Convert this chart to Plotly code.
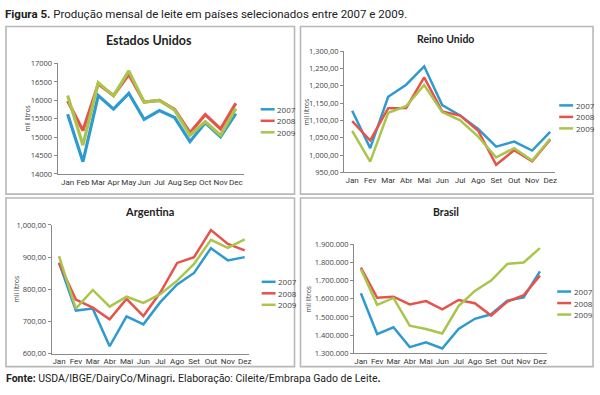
import plotly.graph_objects as go

# ---------------- data ----------------
series_names = ["2007", "2008", "2009"]
series_colors = ["#2E9AD0", "#E6534B", "#A9C54C"]

months_en = ["Jan", "Feb", "Mar", "Apr", "May", "Jun", "Jul", "Aug", "Sep", "Oct", "Nov", "Dec"]
months_pt = ["Jan", "Fev", "Mar", "Abr", "Mai", "Jun", "Jul", "Ago", "Set", "Out", "Nov", "Dez"]

usa_2007 = [15620, 14330, 16130, 15760, 16190, 15480, 15720, 15530, 14880, 15390, 15010, 15640]
usa_2008 = [15980, 15180, 16440, 16130, 16700, 15950, 16000, 15750, 15120, 15610, 15220, 15920]
usa_2009 = [16130, 14780, 16480, 16120, 16800, 15950, 16000, 15730, 15050, 15420, 15050, 15780]

uk_2007 = [1128, 1020, 1168, 1203, 1256, 1144, 1114, 1075, 1024, 1039, 1013, 1067]
uk_2008 = [1098, 1042, 1135, 1136, 1224, 1126, 1114, 1070, 972, 1014, 982, 1044]
uk_2009 = [1070, 981, 1122, 1141, 1202, 1124, 1100, 1053, 993, 1020, 984, 1047]

arg_2007 = [883, 734, 740, 623, 716, 691, 760, 815, 851, 928, 890, 900]
arg_2008 = [881, 768, 743, 707, 770, 717, 790, 882, 900, 984, 941, 921]
arg_2009 = [903, 740, 798, 746, 777, 758, 785, 827, 879, 954, 929, 955]

bra_2007 = [1631000, 1406000, 1443000, 1334000, 1360000, 1326000, 1434000, 1490000, 1515000, 1590000, 1608000, 1752000]
bra_2008 = [1772000, 1606000, 1612000, 1569000, 1588000, 1542000, 1594000, 1576000, 1508000, 1585000, 1620000, 1728000]
bra_2009 = [1764000, 1567000, 1605000, 1452000, 1434000, 1409000, 1560000, 1644000, 1701000, 1793000, 1801000, 1880000]

usa_ticks = [14000, 14500, 15000, 15500, 16000, 16500, 17000]
usa_ticktext = ["14000", "14500", "15000", "15500", "16000", "16500", "17000"]
uk_ticks = [950, 1000, 1050, 1100, 1150, 1200, 1250, 1300]
uk_ticktext = ["950,00", "1,000,00", "1,050,00", "1,100,00", "1,150,00", "1,200,00", "1,250,00", "1,300,00"]
arg_ticks = [600, 700, 800, 900, 1000]
arg_ticktext = ["600,00", "700,00", "800,00", "900,00", "1,000,00"]
bra_ticks = [1300000, 1400000, 1500000, 1600000, 1700000, 1800000, 1900000]
bra_ticktext = ["1.300.000", "1.400.000", "1.500.000", "1.600.000", "1.700.000", "1.800.000", "1.900.000"]

titles = ["Estados Unidos", "Reino Unido", "Argentina", "Brasil"]
y_title = "mil litros"
caption_bold = "Figura 5."
caption = " Produção mensal de leite em países selecionados entre 2007 e 2009."
footer = "<b>Fonte:</b> USDA/IBGE/DairyCo/Minagri<b>.</b> Elaboração: Cileite/Embrapa Gado de Leite<b>.</b>"

# ---------------- layout helpers ----------------
W, H = 600, 395


def fx(px):
    return px / W


def fy(py):
    return 1 - py / H


panels = [
    dict(months=months_en, data=[usa_2007, usa_2008, usa_2009], ticks=usa_ticks, ticktext=usa_ticktext,
         yr=[14000, 17000], xd=(58, 245), yd=(60, 173.3), xr=[-0.65, 11.52], lw=3.2,
         title_xy=(150, 36), title_size=12.5, leg=(262, 107), ytitle_x=28,
         box=(6, 22, 296, 194)),
    dict(months=months_pt, data=[uk_2007, uk_2008, uk_2009], ticks=uk_ticks, ticktext=uk_ticktext,
         yr=[950, 1300], xd=(346, 558), yd=(47.3, 171.7), xr=[-0.44, 11.28], lw=2.5,
         title_xy=(448, 35), title_size=10.5, leg=(562, 103), ytitle_x=308,
         box=(302, 22, 596, 194)),
    dict(months=months_pt, data=[arg_2007, arg_2008, arg_2009], ticks=arg_ticks, ticktext=arg_ticktext,
         yr=[600, 1000], xd=(52, 250), yd=(225.7, 357.7), xr=[-0.43, 11.24], lw=2.5,
         title_xy=(150, 212), title_size=11, leg=(263, 284), ytitle_x=16,
         box=(6, 198, 296, 371)),
    dict(months=months_pt, data=[bra_2007, bra_2008, bra_2009], ticks=bra_ticks, ticktext=bra_ticktext,
         yr=[1300000, 1900000], xd=(356, 550), yd=(245.7, 357.3), xr=[-0.41, 11.45], lw=2.5,
         title_xy=(448, 212), title_size=10.5, leg=(560, 294), ytitle_x=310,
         box=(302, 198, 596, 371)),
]

fig = go.Figure()
shapes = []
annotations = []
layout_axes = {}

for i, p in enumerate(panels):
    n = i + 1
    xa = "x" if n == 1 else f"x{n}"
    ya = "y" if n == 1 else f"y{n}"
    xkey = "xaxis" if n == 1 else f"xaxis{n}"
    ykey = "yaxis" if n == 1 else f"yaxis{n}"
    for s, (name, col) in enumerate(zip(series_names, series_colors)):
        fig.add_trace(go.Scatter(
            x=p["months"], y=p["data"][s], mode="lines", name=name,
            line=dict(color=col, width=p["lw"]), xaxis=xa, yaxis=ya, showlegend=False,
        ))
    layout_axes[xkey] = dict(
        domain=[fx(p["xd"][0]), fx(p["xd"][1])], anchor=ya, type="category",
        range=p["xr"], showgrid=False, zeroline=False, showline=True,
        linecolor="#8a8a8a", linewidth=1.2, ticks="", tickangle=0,
        tickfont=dict(family="Roboto, sans-serif", size=8, color="#333"), fixedrange=True,
    )
    layout_axes[ykey] = dict(
        domain=[fy(p["yd"][1]), fy(p["yd"][0])], anchor=xa, range=p["yr"],
        tickvals=p["ticks"], ticktext=p["ticktext"], showgrid=False, zeroline=False,
        showline=True, linecolor="#8a8a8a", linewidth=1.2, ticks="outside", ticklen=3,
        tickcolor="#8a8a8a", tickfont=dict(size=7.5, color="#444"), fixedrange=True,
    )
    # panel box
    bx0, by0, bx1, by1 = p["box"]
    shapes.append(dict(type="rect", xref="paper", yref="paper",
                       x0=fx(bx0), x1=fx(bx1), y0=fy(by1), y1=fy(by0),
                       line=dict(color="#b8b8b8", width=1.6)))
    # title
    tx, ty = p["title_xy"]
    annotations.append(dict(text=f"<b>{titles[i]}</b>", x=fx(tx), y=fy(ty), xref="paper", yref="paper",
                            showarrow=False, xanchor="center", yanchor="middle",
                            font=dict(family="Lato, Open Sans, sans-serif", size=p["title_size"], color="#222")))
    # y-axis title
    annotations.append(dict(text=y_title, x=fx(p["ytitle_x"]), y=fy((p["yd"][0] + p["yd"][1]) / 2),
                            xref="paper", yref="paper", showarrow=False, textangle=-90,
                            xanchor="center", yanchor="middle",
                            font=dict(size=6.5, color="#444")))
    # manual legend
    lx, ly = p["leg"]
    for s, (name, col) in enumerate(zip(series_names, series_colors)):
        yy = ly + s * 11.8
        shapes.append(dict(type="line", xref="paper", yref="paper",
                           x0=fx(lx), x1=fx(lx + 14), y0=fy(yy), y1=fy(yy),
                           line=dict(color=col, width=2.5)))
        annotations.append(dict(text=name, x=fx(lx + 14.5), y=fy(yy), xref="paper", yref="paper",
                                showarrow=False, xanchor="left", yanchor="middle",
                                font=dict(size=8, color="#444")))

# caption and footer
annotations.append(dict(text=f"<b>{caption_bold}</b>{caption}", x=fx(3), y=fy(9), xref="paper", yref="paper",
                        showarrow=False, xanchor="left", yanchor="middle",
                        font=dict(family="Roboto, Open Sans, sans-serif", size=11.5, color="#222")))
annotations.append(dict(text=footer, x=fx(4), y=fy(383), xref="paper", yref="paper",
                        showarrow=False, xanchor="left", yanchor="middle",
                        font=dict(family="Roboto, Open Sans, sans-serif", size=10.5, color="#222")))

fig.update_layout(
    width=W, height=H, autosize=False,
    margin=dict(l=0, r=0, t=0, b=0),
    paper_bgcolor="white", plot_bgcolor="white",
    font=dict(family="Open Sans, Liberation Sans, sans-serif", color="#333"),
    shapes=shapes, annotations=annotations,
    **layout_axes,
)

fig.write_html("out.html", config={"displayModeBar": False},
               post_script="document.body.style.margin='0';")
